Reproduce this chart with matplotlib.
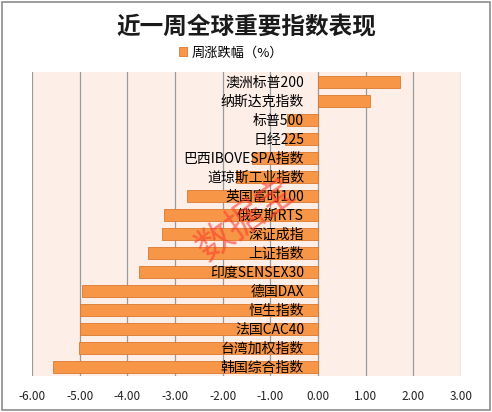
import matplotlib
matplotlib.use('Agg')
import matplotlib.pyplot as plt
from matplotlib.patches import Rectangle

plt.rcParams['font.family'] = ['Noto Sans CJK SC', 'DejaVu Sans']

# categories from top to bottom, weekly change in %
index_names = ['澳洲标普200', '纳斯达克指数', '标普500', '日经225', '巴西IBOVESPA指数',
               '道琼斯工业指数', '英国富时100', '俄罗斯RTS', '深证成指', '上证指数',
               '印度SENSEX30', '德国DAX', '恒生指数', '法国CAC40', '台湾加权指数', '韩国综合指数']
weekly_change = [1.71, 1.10, -0.66, -0.70, -1.39, -1.72, -2.75, -3.23, -3.27, -3.57,
                 -3.76, -4.95, -4.99, -5.00, -5.01, -5.56]
x_ticks = [-6, -5, -4, -3, -2, -1, 0, 1, 2, 3]

fig = plt.figure(figsize=(4.92, 4.12), dpi=100)
fig.patch.set_facecolor('white')
fig.patches.append(Rectangle((0.004, 0.004), 0.992, 0.99, transform=fig.transFigure,
                             fill=False, edgecolor='#8c8c8c', linewidth=1.2))

ax = fig.add_axes([0.065, 0.087, 0.872, 0.738])
ax.set_facecolor('#fdefe8')

ypos = list(range(len(index_names)))[::-1]
ax.barh(ypos, weekly_change, height=0.64, color='#f79646', edgecolor='#d9782f',
        linewidth=0.6, label='周涨跌幅（%）', zorder=2)

ax.set_xlim(-6, 3)
ax.set_ylim(-0.5, len(index_names) - 0.5)
ax.set_xticks(x_ticks)
ax.set_xticklabels(['%.2f' % t for t in x_ticks], fontsize=8.5, color='#222222')
# vertical gridlines under the bars, category labels above them
for t in x_ticks:
    ax.axvline(t, color='#9a9a9a', linewidth=0.9, zorder=0.5)
ax.set_axisbelow(False)

ax.set_yticks(ypos)
ax.set_yticklabels(index_names, fontsize=9, color='#111111')
ax.spines['left'].set_position(('data', 0))
ax.spines['left'].set_visible(False)
for s in ['top', 'right', 'bottom']:
    ax.spines[s].set_visible(False)
ax.tick_params(axis='y', length=0, pad=10)
ax.tick_params(axis='x', length=0, pad=10)

fig.text(0.5, 0.935, '近一周全球重要指数表现', ha='center', va='center',
         fontsize=17, fontweight='bold', color='#1a1a1a')
fig.legend(loc='center', bbox_to_anchor=(0.47, 0.872), frameon=False, fontsize=9.5,
           handlelength=0.6, handleheight=0.6, handletextpad=0.3)

# watermark
fig.text(0.5, 0.465, '数据宝', ha='center', va='center', rotation=36,
         fontsize=27, color='#ff3b2f', alpha=0.6, zorder=10)

fig.savefig('out.png', dpi=100)
